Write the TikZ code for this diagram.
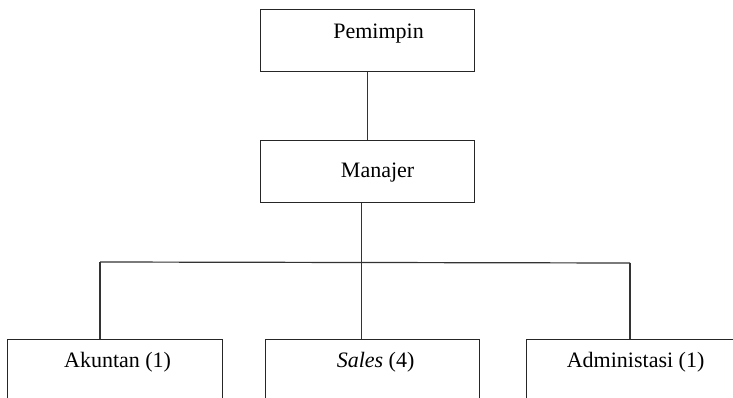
\documentclass[tikz,border=0pt]{standalone}
\usepackage{fontspec}
\setmainfont{Liberation Serif}
\begin{document}
\begin{tikzpicture}[x=1pt,y=-1pt,
  box/.style={draw=black!85, line width=1.2pt, rectangle, inner sep=0pt,
    minimum width=214pt},
  lbl/.style={anchor=base, inner sep=0pt, font=\fontsize{22}{26}\selectfont},
  link/.style={draw=black!80, line width=1.2pt}]
\useasboundingbox (0,0) rectangle (733,398);
\clip (0,0) rectangle (733,398);
% upper levels
\node[box, minimum height=62pt, anchor=north west] (pem) at (260,9) {};
\node[box, minimum height=62pt, anchor=north west] (man) at (260,140) {};
% lower level (boxes continue past the bottom edge)
\node[box, minimum width=215pt, minimum height=90pt, anchor=north west] (ak) at (7,339) {};
\node[box, minimum width=214pt, minimum height=90pt, anchor=north west] (sal) at (265,339) {};
\node[box, minimum width=215pt, minimum height=90pt, anchor=north west] (adm) at (526,339) {};
% labels
\node[lbl] (tpem) at ([shift={(11,30)}]pem.north) {Pemimpin};
\node[lbl] (tman) at ([shift={(10,38)}]man.north) {Manajer};
\node[lbl] (tak) at ([shift={(2.5,28)}]ak.north) {Akuntan (1)};
\node[lbl] (tsal) at ([shift={(3,28)}]sal.north) {\textit{Sales} (4)};
\node[lbl] (tadm) at ([shift={(1.5,28)}]adm.north) {Administasi (1)};
% connectors
\coordinate (bl) at (100,262);
\coordinate (br) at (630,263);
\draw[link] (pem.south) -- (man.south |- pem.south) -- (man.north);
\draw[link] ([xshift=-6pt]man.south) -- ([xshift=-11pt]sal.north);
\draw[link] (bl) -- (br);
\draw[link] (bl) -- (bl |- ak.north);
\draw[link] (br) -- (br |- adm.north);
\end{tikzpicture}
\end{document}
